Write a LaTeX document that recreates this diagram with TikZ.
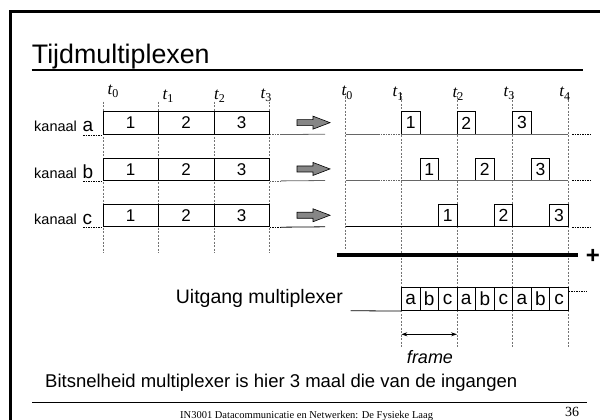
\documentclass[tikz,border=0pt]{standalone}
\usepackage{fontspec}
\setmainfont{Liberation Serif}
\setsansfont{Liberation Sans}
\usetikzlibrary{arrows.meta,calc}
\newcommand{\fsz}[1]{\fontsize{#1}{#1}\selectfont}
\newcommand{\tlabel}[1]{{\fsz{17}\itshape t}{\fsz{12}\raisebox{-3.5pt}{#1}}}
\begin{document}
\begin{tikzpicture}[x=1pt,y=-1pt,
  vdash/.style={draw=black!55, line width=0.5pt, dash pattern=on 2pt off 1.5pt},
  dotl/.style={line width=0.6pt, dash pattern=on 1.5pt off 1pt},
  lcell/.style={draw, line width=0.8pt, minimum width=55.45pt, minimum height=22.5pt, inner sep=0pt, font=\sffamily\fsz{17}},
  rcell/.style={draw, line width=0.8pt, minimum width=18.55pt, minimum height=22.5pt, inner sep=0pt, font=\sffamily\fsz{17.5}},
  ocell/.style={draw, line width=0.8pt, minimum width=18.55pt, minimum height=23pt, inner sep=0pt, font=\sffamily\fsz{19}},
  tlab/.style={inner sep=0pt},
  txt/.style={inner sep=0pt, font=\sffamily\fsz{18.5}},
  blockarrow/.style={draw, fill=gray!95, line width=0.6pt}
  ]
\path[use as bounding box] (0,0) rectangle (600,420);
% title
\node[anchor=base west, inner sep=0pt, font=\sffamily\fsz{26.8}] (title) at (31.7,63.3) {Tijdmultiplexen};
\coordinate (tulL) at (31.7,70);
\coordinate (tulR) at (582.7,70);
\draw[line width=1.3pt] (tulL) -- (tulR);

% left time grid
\foreach \i in {0,...,3} {
  \pgfmathsetmacro\xx{103+55.45*\i}
  \coordinate (L\i t) at (\xx,101.7);
  \coordinate (L\i b) at (\xx,253);
  \draw[vdash] (L\i t) -- (L\i b);
}
\foreach \i/\x/\y in {0/113/91.5, 1/168/96, 2/219.5/96, 3/266/95.5}
  \node[tlab] (lt\i) at (\x,\y) {\tlabel{\i}};

% right time grid
\foreach \i in {0,...,4} {
  \pgfmathsetmacro\xx{345.7+55.65*\i}
  \coordinate (R\i t) at (\xx,93);
  \ifnum\i=0 \coordinate (R\i b) at (\xx,250); \else \coordinate (R\i b) at (\xx,347); \fi
  \draw[vdash] (R\i t) -- (R\i b);
}
\foreach \i/\x/\y in {0/347/93, 1/398/93.5, 2/458/94, 3/509/93.5, 4/564.7/93.5}
  \node[tlab] (rt\i) at (\x,\y) {\tlabel{\i}};

% channels
\foreach \ch/\yc/\o/\col in {a/122.95/0/black!60, b/169.25/1/black!60, c/215.55/2/black} {
  \pgfmathsetmacro\yb{\yc+11.25}
  \node[anchor=base west, inner sep=0pt, font=\sffamily\fsz{14.5}] (k\ch) at (34,\yc+8.75) {kanaal};
  \node[anchor=base west, inner sep=0pt, font=\sffamily\fsz{19}] (kl\ch) at (82.5,\yc+8.75) {\ch};
  \node[lcell] (L\ch1) at (130.725,\yc) {1};
  \node[lcell] (L\ch2) at (186.175,\yc) {2};
  \node[lcell] (L\ch3) at (241.625,\yc) {3};
  \coordinate (u\ch) at (83,\yb+0.8);
  \draw[dotl] (u\ch) -- (L\ch1.south west |- u\ch);
  \draw[dotl, draw=\col] (L\ch3.south east) -- ++(11,0) coordinate (m\ch);
  \coordinate (e\ch) at (325,\yb);
  \draw[draw=\col, line width=0.8pt] (m\ch) -- (e\ch);
  \begin{scope}[shift={(0,\yc-0.3)}]
    \draw[blockarrow] (297,-3) -- (313,-3) -- (313,-6.5) -- (330,0) -- (313,6.5) -- (313,3) -- (297,3) -- cycle;
  \end{scope}
  \foreach \k in {1,2,3} {
    \pgfmathsetmacro\cx{345.7+55.65*\k+18.55*\o+9.275}
    \node[rcell] (R\ch\k) at (\cx,\yc) {\k};
  }
  \coordinate (ra\ch) at (345.7,\yb);
  \coordinate (rb\ch) at (378,\yb);
  \coordinate (rc\ch) at (401.35,\yb);
  \coordinate (rd\ch) at (568.3,\yb);
  \coordinate (rx\ch) at (572,\yb);
  \coordinate (re\ch) at (592,\yb);
  \draw[draw=\col, line width=0.8pt] (ra\ch) -- (rb\ch);
  \draw[draw=\col, line width=0.8pt] (rc\ch) -- (rd\ch);
  \draw[dotl] (rx\ch) -- (re\ch);
}
\draw[dotl, draw=black!60] (rba) -- (rca);
\draw[dotl, draw=black!60] (rbb) -- (rcb);
\draw[line width=0.8pt] (rbc) -- (rcc);

% summing line
\coordinate (sumL) at (336.7,255);
\coordinate (sumR) at (578,255);
\draw[line width=3.5pt] (sumL) -- (sumR);
\node[inner sep=0pt, font=\sffamily\bfseries\fsz{24}] (plus) at (593,256) {+};

% multiplexer output
\node[inner sep=0pt, font=\sffamily\fsz{19.5}, anchor=base east] (uit) at (343,303.3) {Uitgang multiplexer};
\foreach \j/\l in {1/a,2/b,3/c,4/a,5/b,6/c,7/a,8/b,9/c} {
  \pgfmathsetmacro\cx{401.35+18.55*(\j-1)+9.275}
  \node[ocell] (O\j) at (\cx,299.2) {\l};
}
\coordinate (ostart) at (350.7,310.7);
\draw[line width=0.8pt] (ostart) -- (O1.south west);
\coordinate (oend) at (587,291.7);
\draw[dotl] (O9.east |- oend) -- (oend);

% frame arrow
\coordinate (fa) at (401.35,334.3);
\coordinate (fb) at (457,334.3);
\draw[{Stealth[length=6pt,width=4pt]}-{Stealth[length=6pt,width=4pt]}, line width=0.8pt] (fa) -- (fb);
\node[inner sep=0pt, font=\sffamily\itshape\fsz{18}] (frm) at (430,356.7) {frame};

% bottom text
\node[txt, anchor=base west] (bits) at (45,387) {Bitsnelheid multiplexer is hier 3 maal die van de ingangen};
\coordinate (bulL) at (32,402.3);
\coordinate (bulR) at (587,402.3);
\draw[line width=1.3pt] (bulL) -- (bulR);
\node[anchor=base west, inner sep=0pt, font=\fsz{10.5}] (foot) at (180,418.5) {IN3001 Datacommunicatie en Netwerken: De Fysieke Laag};
\node[anchor=base west, inner sep=0pt, font=\fsz{14}] (pg) at (565,416.7) {36};

% slide frame (drawn last, as filled bars)
\fill[black] (9.3,10.3) rectangle (11.7,420);
\fill[black] (9.3,10.3) rectangle (600,12.7);
\end{tikzpicture}
\end{document}
